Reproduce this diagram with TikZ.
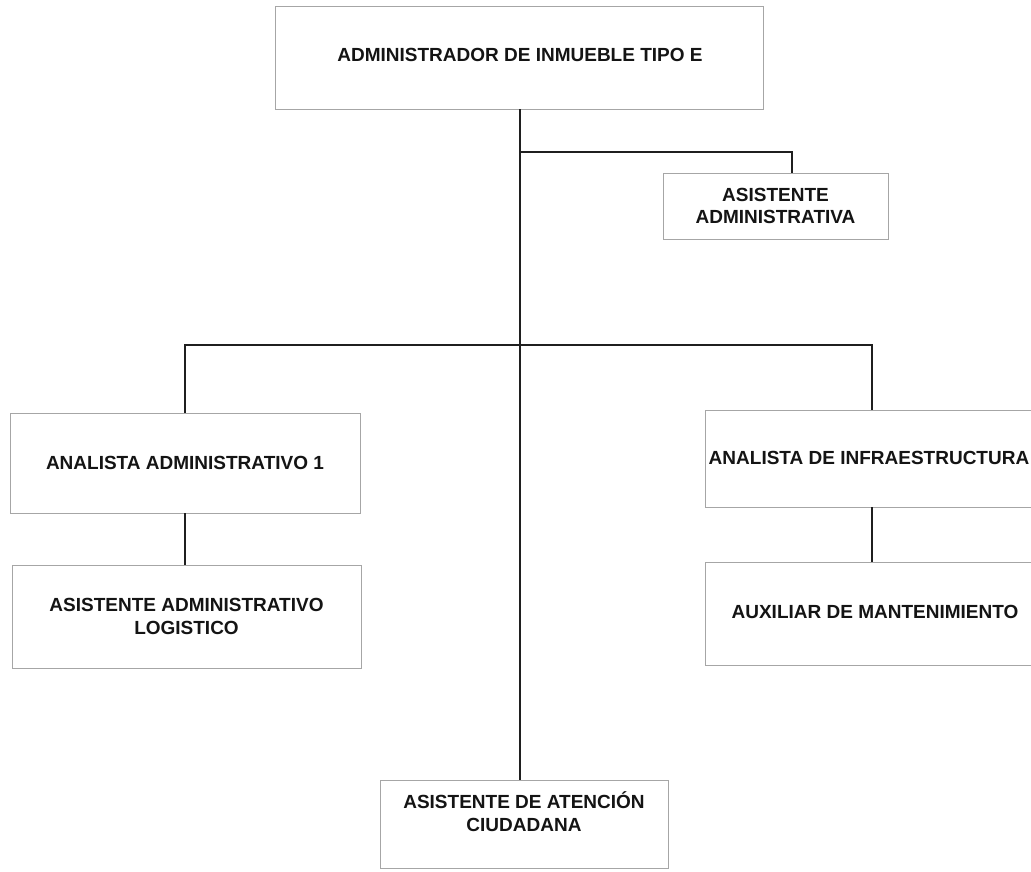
\documentclass[tikz,border=0pt]{standalone}
\usepackage{fontspec}
\setmainfont{Liberation Sans}
\begin{document}
\begin{tikzpicture}[x=1pt,y=-1pt,
  orgbox/.style={draw=black!35, line width=0.8pt, fill=white, rectangle, inner sep=0pt, align=center,
     font=\fontsize{19}{22.5}\selectfont\bfseries, text=black!92},
  lbl/.style={inner sep=0pt, align=center, font=\fontsize{19}{22.5}\selectfont\bfseries, text=black!92},
  conn/.style={draw=black!88, line width=2pt}]
\useasboundingbox (0,0) rectangle (1031,871);
\fill[white] (0,0) rectangle (1031,871);
% boxes
\node[orgbox, minimum width=488pt, minimum height=103pt] (top) at (519,57.5) {};
\node[lbl] (toptxt) at (520,55) {ADMINISTRADOR DE INMUEBLE TIPO E};
\node[orgbox, minimum width=225pt, minimum height=66pt] (asist) at (775.5,206) {ASISTENTE\\ADMINISTRATIVA};
\node[orgbox, minimum width=350pt, minimum height=100pt] (an1) at (185,463) {ANALISTA ADMINISTRATIVO 1};
\node[orgbox, minimum width=349pt, minimum height=103pt] (logist) at (186.5,616.5) {ASISTENTE ADMINISTRATIVO\\LOGISTICO};
\node[orgbox, minimum width=334pt, minimum height=97pt] (infra) at (872,458.5) {};
\node[lbl] (infratxt) at (869,458) {ANALISTA DE INFRAESTRUCTURA};
\node[orgbox, minimum width=334pt, minimum height=103pt] (aux) at (872,613.5) {};
\node[lbl] (auxtxt) at (875,612) {AUXILIAR DE MANTENIMIENTO};
\node[orgbox, minimum width=288pt, minimum height=88pt] (ciud) at (524,824) {ASISTENTE DE ATENCIÓN\\CIUDADANA\\[2pt]};
% connectors
\coordinate (j1) at (520,152);
\coordinate (hbar) at (520,345);
\draw[conn] (top.south -| j1) -- (j1 |- ciud.north);
\draw[conn] (j1) -| ([xshift=16.5pt]asist.north);
\draw[conn] (an1.north) |- (hbar) -| (infra.north);
\draw[conn] (an1.south) -- (an1.south |- logist.north);
\draw[conn] (infra.south) -- (aux.north);
\end{tikzpicture}
\end{document}
